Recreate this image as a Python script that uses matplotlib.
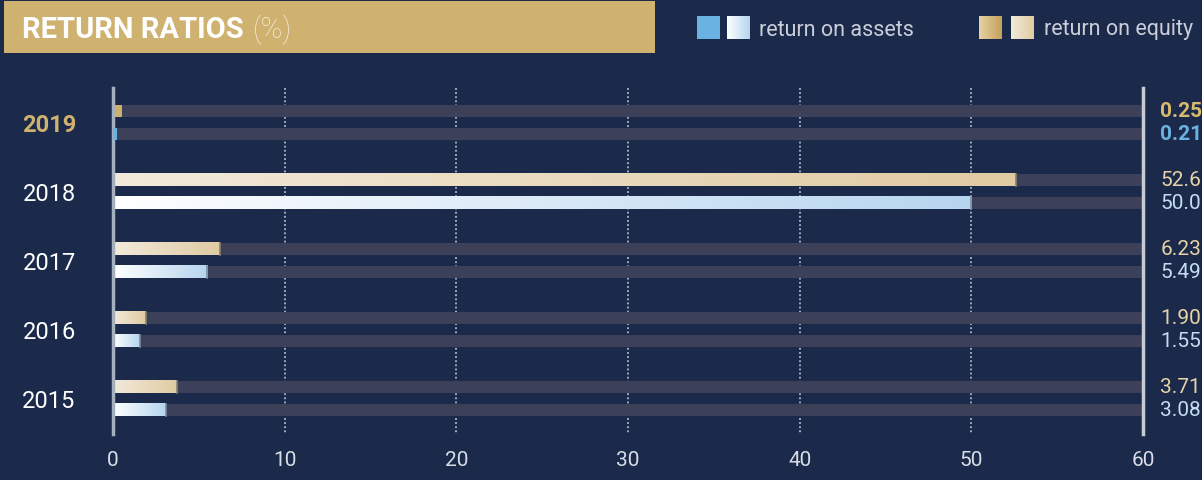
import numpy as np
import matplotlib.pyplot as plt
from matplotlib.colors import LinearSegmentedColormap
from matplotlib.patches import Rectangle

# data
years = ["2019", "2018", "2017", "2016", "2015"]
roe = [0.25, 52.6, 6.23, 1.90, 3.71]
roa = [0.21, 50.0, 5.49, 1.55, 3.08]
roe_labels = ["0.25", "52.6", "6.23", "1.90", "3.71"]
roa_labels = ["0.21", "50.0", "5.49", "1.55", "3.08"]
xticks = [0, 10, 20, 30, 40, 50, 60]

BG = "#1b2a4a"
TRACK = "#3c4159"
GOLD = "#cfb170"
BLUE_SOLID = "#6ab2e2"
GOLD_SOLID = "#cdb06e"
EQ_TXT = "#e6d3a8"
AS_TXT = "#c5dcf0"

cm_eq = LinearSegmentedColormap.from_list("eq", ["#f3eadb", "#e0cba2"])
cm_as = LinearSegmentedColormap.from_list("as", ["#ffffff", "#b6d5ef"])
cm_eq_leg = LinearSegmentedColormap.from_list("eql", ["#e6d2a6", "#c4a15a"])
cm_as_leg = LinearSegmentedColormap.from_list("asl", ["#ffffff", "#b6d5ef"])
grad = np.linspace(0, 1, 256).reshape(1, -1)

plt.rcParams["font.family"] = ["Roboto", "DejaVu Sans"]

fig = plt.figure(figsize=(12.02, 4.81), dpi=100)
fig.patch.set_facecolor(BG)

# plot area: x 0 -> px 113, 60 -> px 1143 ; y px 89 -> 435
W, H = 1202, 481
ax = fig.add_axes([113 / W, 1 - 435 / H, (1143 - 113) / W, (435 - 89) / H])
ax.set_facecolor(BG)
for s in ax.spines.values():
    s.set_visible(False)
ax.set_xticks([])
ax.set_yticks([])

centers = np.linspace(123.5, 399.5, len(years))
bh = 12.5
off = 11.5

# dotted grid
for t in xticks[1:-1]:
    ax.plot([t, t], [89, 435], color="#c8d0dc", lw=1.1, ls=(0, (1.2, 1.5)), zorder=1)

for i, y in enumerate(centers):
    ye, ya = y - off, y + off
    for yy in (ye, ya):
        ax.add_patch(Rectangle((0, yy - bh / 2), 60, bh, color=TRACK, zorder=2, lw=0))
    if i == 0:
        ax.add_patch(Rectangle((0, ye - bh / 2), max(roe[i] * 2, 0.5), bh, color=GOLD_SOLID, zorder=3, lw=0))
        ax.add_patch(Rectangle((0, ya - bh / 2), max(roa[i], 0.22), bh, color=BLUE_SOLID, zorder=6, lw=0))
    else:
        ax.imshow(grad, cmap=cm_eq, aspect="auto", extent=(0, roe[i], ye + bh / 2, ye - bh / 2), zorder=3)
        ax.imshow(grad, cmap=cm_as, aspect="auto", extent=(0, roa[i], ya + bh / 2, ya - bh / 2), zorder=3)
        ax.plot([roe[i], roe[i]], [ye - bh / 2, ye + bh / 2], color="#8a8270", lw=1.2, zorder=4)
        ax.plot([roa[i], roa[i]], [ya - bh / 2, ya + bh / 2], color="#7d8aa0", lw=1.2, zorder=4)

ax.set_xlim(0, 60)
ax.set_ylim(435, 89)

# axis lines
ax.plot([0, 0], [89, 435], color="#a4b0be", lw=2.5, zorder=5, clip_on=False)
ax.plot([60, 60], [89, 435], color="#c5ccd6", lw=2.5, zorder=5, clip_on=False)

# tick labels
for t in xticks:
    ax.text(t, 461, str(t), ha="center", va="center", color="#d8dde6", fontsize=15, clip_on=False)

# year labels and value labels
for i, y in enumerate(centers):
    if i == 0:
        ax.text(-64 / 17.17, y + 2, years[i], ha="center", va="center", color=GOLD, fontsize=17,
                fontweight="bold", clip_on=False)
        ax.text(61.0, y - off, roe_labels[i], ha="left", va="center", color="#d8b96e", fontsize=15,
                fontweight="bold", clip_on=False)
        ax.text(61.0, y + off, roa_labels[i], ha="left", va="center", color="#6ab2e2", fontsize=15,
                fontweight="bold", clip_on=False)
    else:
        ax.text(-64 / 17.17, y + 2, years[i], ha="center", va="center", color="white", fontsize=17,
                clip_on=False)
        ax.text(61.0, y - off, roe_labels[i], ha="left", va="center", color=EQ_TXT, fontsize=15,
                clip_on=False)
        ax.text(61.0, y + off, roa_labels[i], ha="left", va="center", color=AS_TXT, fontsize=15,
                clip_on=False)

# header box
hax = fig.add_axes([0, 0, 1, 1], zorder=-1)
hax.axis("off")
hax.add_patch(Rectangle((4, 2), 651, 52, color=GOLD, lw=0))
t1 = hax.text(22, 30, "RETURN RATIOS", ha="left", va="center", color="white", fontsize=21,
              fontweight="bold")

# legend
sq = 23
hax.add_patch(Rectangle((697, 17), sq, sq, color=BLUE_SOLID, lw=0))
hax.imshow(grad, cmap=cm_as_leg, aspect="auto", extent=(727, 727 + sq, 17 + sq, 17))
hax.text(759, 30, "return on assets", ha="left", va="center", color="#c9ced8", fontsize=15.5)
hax.imshow(grad, cmap=cm_eq_leg, aspect="auto", extent=(979, 979 + sq, 17 + sq, 17))
hax.imshow(grad, cmap=cm_eq, aspect="auto", extent=(1011, 1011 + sq, 17 + sq, 17))
hax.text(1044, 30, "return on equity", ha="left", va="center", color="#c9ced8", fontsize=15.5)
hax.set_xlim(0, W)
hax.set_ylim(H, 0)

fig.canvas.draw()
bb = t1.get_window_extent()
hax.text(bb.x1 + 9, 30, "(%)", ha="left", va="center", color="#f5ecd8", fontsize=21, fontweight="light")

fig.savefig("out.png", dpi=100, facecolor=BG)
